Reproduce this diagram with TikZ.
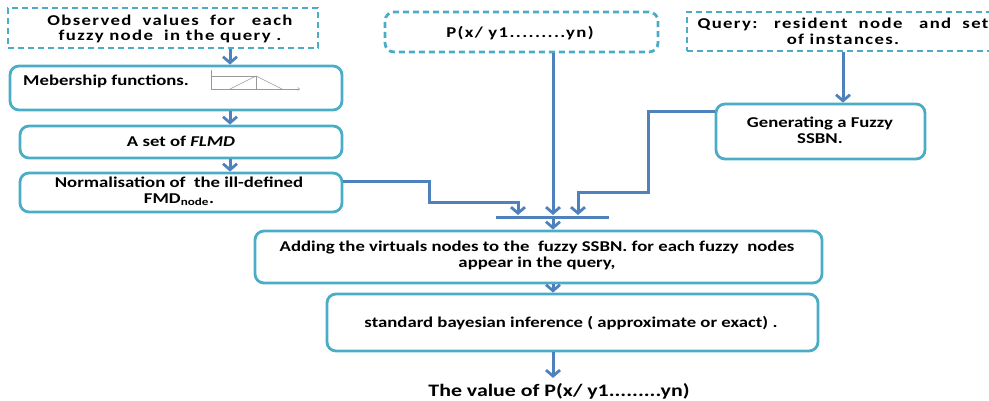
\documentclass[tikz,border=0pt]{standalone}
\usepackage{fontspec}
\setmainfont{Carlito}[FakeStretch=1.25]
\usetikzlibrary{arrows.meta,calc}
\definecolor{boxblue}{HTML}{4BACC6}
\definecolor{arrblue}{HTML}{4F81BD}
\begin{document}
\begin{tikzpicture}[x=1pt,y=-1pt,
  rbox/.style={draw=boxblue,line width=2.8pt,rounded corners=9pt,inner sep=0pt},
  sbox/.style={draw=boxblue,line width=2.8pt,dashed,dash pattern=on 6pt off 4pt,inner sep=0pt},
  rdbox/.style={rbox,dashed,dash pattern=on 6pt off 4pt},
  txt/.style={font=\bfseries\fontsize{15}{16}\selectfont,align=center,inner sep=0pt},
  wtxt/.style={font=\bfseries\fontsize{15}{16}\selectfont\addfontfeature{LetterSpace=9},align=center,inner sep=0pt},
  conn/.style={draw=arrblue,line width=3pt},
  arr/.style={conn,-{Straight Barb[length=6pt,width=14pt,line width=2.8pt]}}
]
\useasboundingbox (0,0) rectangle (989,401);
% boxes
\node[sbox,minimum width=310,minimum height=40] (obs) at (163,28) {};
\node[rbox,minimum width=332,minimum height=44] (memb) at (176,88) {};
\node[rbox,minimum width=322,minimum height=32] (flmd) at (181,142) {};
\node[rbox,minimum width=322,minimum height=39] (norm) at (181,192.5) {};
\node[rdbox,minimum width=273,minimum height=40] (pbox) at (521.5,32) {};
\node[sbox,minimum width=308,minimum height=39] (query) at (841,31.5) {};
\node[rbox,minimum width=209,minimum height=55] (gen) at (820.5,131.5) {};
\node[rbox,minimum width=567,minimum height=52] (add) at (538.5,257) {};
\node[rbox,minimum width=491,minimum height=57] (std) at (572.5,322.5) {};
% texts
\node[wtxt] (tobs) at (170,29) {Observed\ \ values\ \ for\ \ \ each\\[-1pt]fuzzy node\ \ in the query\ .};
\node[txt,anchor=west] (tmemb) at (23,81) {Mebership functions.};
\node[txt] (tflmd) at (181,141) {A set of \textit{FLMD}};
\node[txt] (tnorm) at (179,191) {Normalisation of \ the ill-defined\\FMD\textsubscript{node}.};
\node[wtxt] (tp) at (520,33) {P(x/ y1.........yn)};
\node[wtxt] (tq) at (843,31.5) {Query:\ \ \ resident\ \ node\ \ \ and\ \ set\\of instances.};
\node[txt] (tgen) at (820,130.5) {Generating a Fuzzy\\SSBN.};
\node[txt] (tadd) at (537,255.5) {Adding the virtuals nodes to the \ fuzzy SSBN. for each fuzzy \ nodes\\appear in the query,};
\node[txt] (tstd) at (571,323) {standard bayesian inference ( approximate or exact) .};
\node[txt,font=\bfseries\fontsize{17.5}{18}\selectfont] (res) at (559,391) {The value of P(x/ y1.........yn)};
% mini chart
\begin{scope}[draw=black!40,line width=0.5pt]
\draw (211,70) -- (211,90);
\draw[-{Straight Barb[length=2pt,width=3pt]}] (211,89) -- (300,89);
\draw (211,76) -- (256,76);
\draw (230,89) -- (256,76) -- (282,89);
\draw (256,76) -- (256,89);
\end{scope}
% helper coordinates
\coordinate (ax) at (230,0);
\coordinate (mx) at (553,0);
\coordinate (barL) at (496,218);
\coordinate (barR) at (609,218);
\coordinate (barM) at (553,218);
% left chain
\draw[arr] (obs.south -| ax) -- (memb.north -| ax);
\draw[arr] (memb.south -| ax) -- (flmd.north -| ax);
\draw[arr] (flmd.south -| ax) -- (norm.north -| ax);
% bar
\draw[conn] (barL) -- (barR);
% feeders
\draw[arr] ([yshift=10.5pt]norm.east) -- (429,182) -- (429,203) -- (518,203) -- (518,215);
\draw[arr] (pbox.south -| mx) -- (553,215);
\draw[arr] ([yshift=19.5pt]gen.west) -- (648,112) -- (648,193) -- (578,193) -- (578,215);
\draw[arr] (query.south -| 843,0) -- (gen.north -| 843,0);
% lower chain
\draw[arr] (barM) -- (add.north -| mx);
\draw[arr] (add.south -| mx) -- (std.north -| mx);
\draw[arr] (std.south -| mx) -- ([yshift=5pt]res.north -| mx);
\end{tikzpicture}
\end{document}
